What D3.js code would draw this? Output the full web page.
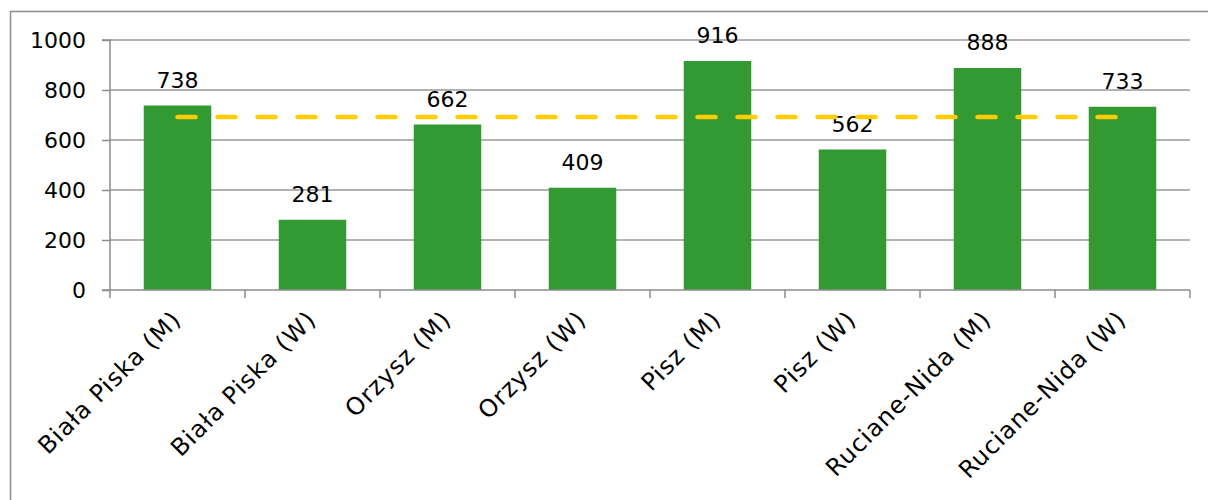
<!DOCTYPE html>
<html>
<head>
<meta charset="utf-8">
<script src="https://cdn.jsdelivr.net/npm/d3@7"></script>
<style>
  body { margin: 0; background: #fff; }
  svg { display: block; font-family: "DejaVu Sans", sans-serif; }
</style>
</head>
<body>
<div id="chart"></div>
<script>
// categories and values
const categories = ["Biała Piska (M)", "Biała Piska (W)", "Orzysz (M)", "Orzysz (W)",
                    "Pisz (M)", "Pisz (W)", "Ruciane-Nida (M)", "Ruciane-Nida (W)"];
const values = [738, 281, 662, 409, 916, 562, 888, 733];
const refLine = [692, 692, 692, 692, 692, 692, 692, 692]; // dashed yellow line
const yTicks = [0, 200, 400, 600, 800, 1000];

const W = 1208, H = 500;
const margin = {top: 40, right: 18, bottom: 210, left: 110};
const width = W - margin.left - margin.right;
const height = H - margin.top - margin.bottom;

const svg = d3.select("#chart").append("svg")
    .attr("width", W).attr("height", H);

// outer chart border
svg.append("rect")
    .attr("x", 10.5).attr("y", 11.5)
    .attr("width", W).attr("height", H)
    .attr("fill", "none").attr("stroke", "#8c8c8c").attr("stroke-width", 1.5);

const g = svg.append("g").attr("transform", `translate(${margin.left},${margin.top})`);

//scales
const x = d3.scaleBand().domain(categories).range([0, width]).paddingInner(0.5).paddingOuter(0.25);
const y = d3.scaleLinear().domain([0, 1000]).range([height, 0]);

// gridlines
g.append("g")
    .selectAll("line")
    .data(yTicks.filter(d => d > 0))
    .join("line")
    .attr("x1", 0).attr("x2", width)
    .attr("y1", d => y(d)).attr("y2", d => y(d))
    .attr("stroke", "#999").attr("stroke-width", 1.5);

// y axis
const yAxis = g.append("g")
    .call(d3.axisLeft(y).tickValues(yTicks).tickFormat(d3.format("d")).tickSize(8).tickPadding(16));
yAxis.selectAll("line, path").attr("stroke", "#8c8c8c").attr("stroke-width", 1.5);
yAxis.select(".domain").attr("d", `M-8,${height}H0V0H-8`);
yAxis.selectAll("text").attr("font-size", 22).attr("fill", "#000")
    .attr("font-family", "DejaVu Sans");

// bars
g.append("g")
    .selectAll("rect")
    .data(values)
    .join("rect")
    .attr("x", (d, i) => x(categories[i]))
    .attr("y", d => y(d))
    .attr("width", x.bandwidth())
    .attr("height", d => height - y(d))
    .attr("fill", "#339933");

// value labels
g.append("g")
    .selectAll("text")
    .data(values)
    .join("text")
    .attr("x", (d, i) => x(categories[i]) + x.bandwidth() / 2)
    .attr("y", d => y(d) - 18)
    .attr("text-anchor", "middle")
    .attr("font-size", 22)
    .attr("fill", "#000")
    .text(d => d);

// dashed reference line
const line = d3.line()
    .x((d, i) => x(categories[i]) + x.bandwidth() / 2)
    .y(d => y(d));
g.append("path")
    .datum(refLine)
    .attr("fill", "none")
    .attr("stroke", "#ffcc00")
    .attr("stroke-width", 4.5)
    .attr("stroke-linecap", "round")
    .attr("stroke-dasharray", "18,22")
    .attr("d", line);

// x axis with category ticks between bars
const xAxis = g.append("g").attr("transform", `translate(0,${height})`);
xAxis.append("line")
    .attr("x1", 0).attr("x2", width)
    .attr("stroke", "#8c8c8c").attr("stroke-width", 1.5);
xAxis.selectAll(".sep")
    .data(d3.range(categories.length + 1))
    .join("line")
    .attr("x1", i => i * x.step()).attr("x2", i => i * x.step())
    .attr("y1", 0).attr("y2", 8)
    .attr("stroke", "#8c8c8c").attr("stroke-width", 1.5);
xAxis.selectAll("text")
    .data(categories)
    .join("text")
    .attr("transform", d => `translate(${x(d) + x.bandwidth() / 2 + 5},${31}) rotate(-45)`)
    .attr("text-anchor", "end")
    .attr("font-size", 24)
    .attr("letter-spacing", 1)
    .attr("fill", "#000")
    .text(d => d);
</script>
</body>
</html>
